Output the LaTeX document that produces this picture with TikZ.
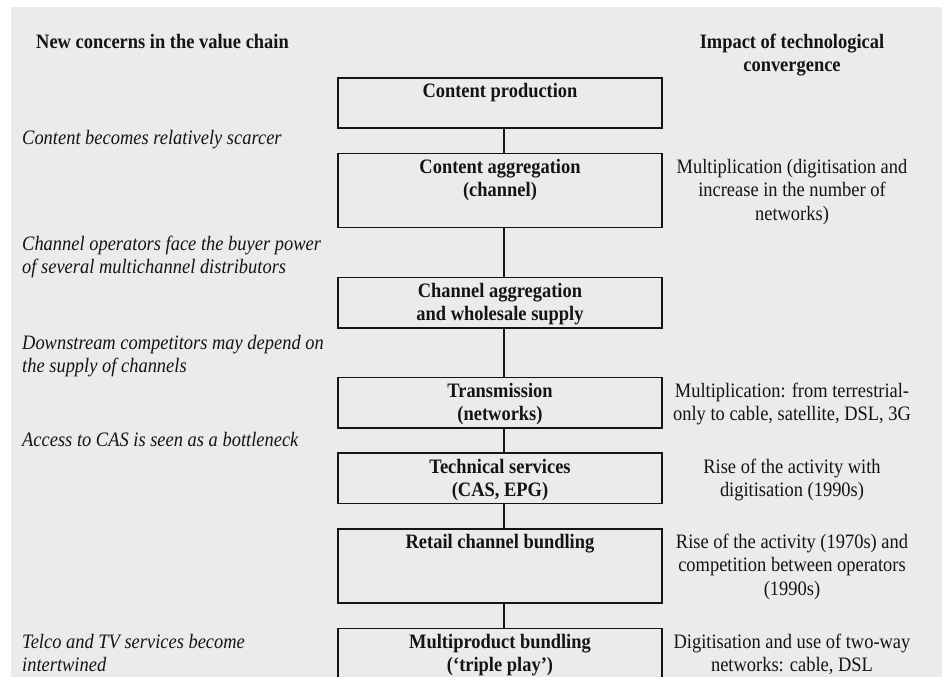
\documentclass[tikz,border=0pt]{standalone}
\usepackage{fontspec}
\setmainfont{Liberation Serif}[FakeStretch=0.9]
\definecolor{bg}{HTML}{EBEBEB}
\definecolor{ink}{HTML}{141414}
% fixed height for the first line of every text block
\newcommand{\firststrut}{\rule{0pt}{15pt}}
\begin{document}
\begin{tikzpicture}[x=1pt,y=-1pt,
  every node/.style={inner sep=0pt, text=ink},
  txt/.style={font=\fontsize{20.5}{23.5}\selectfont},
  stage/.style={draw=ink, line width=1.5pt, minimum width=324pt, anchor=north},
  stagetext/.style={font=\fontsize{20.5}{23.5}\selectfont\bfseries, anchor=north, align=center},
  concern/.style={font=\fontsize{20.5}{23.5}\selectfont\itshape, anchor=north west, align=left},
  impact/.style={txt, anchor=north, align=center},
  heading/.style={font=\fontsize{20.5}{23.5}\selectfont\bfseries},
  link/.style={draw=ink, line width=1.2pt}
]
\useasboundingbox (0,0) rectangle (942,677);
\clip (0,0) rectangle (942,677);
\fill[bg] (11,7) rectangle (942,677);

% column headings
\node[heading, anchor=north west] (hl) at (36,33) {\firststrut New concerns in the value chain};
\node[heading, anchor=north, align=center] (hr) at (792,33) {\firststrut Impact of technological\\convergence};

% stages of the value chain
\node[stage, minimum height=50pt] (s1) at (500,77) {};
\node[stage, minimum height=74pt] (s2) at (500,152.7) {};
\node[stage, minimum height=50.3pt] (s3) at (500,276.7) {};
\node[stage, minimum height=50.6pt] (s4) at (500,376.7) {};
\node[stage, minimum height=50.4pt] (s5) at (500,452.3) {};
\node[stage, minimum height=74.3pt] (s6) at (500,528) {};
\node[stage, minimum height=80pt] (s7) at (500,627.7) {};

\node[stagetext] (t1) at (500,82) {\firststrut Content production};
\node[stagetext] (t2) at (500,158) {\firststrut Content aggregation\\(channel)};
\node[stagetext] (t3) at (500,282) {\firststrut Channel aggregation\\and wholesale supply};
\node[stagetext] (t4) at (500,382) {\firststrut Transmission\\(networks)};
\node[stagetext] (t5) at (500,458) {\firststrut Technical services\\(CAS, EPG)};
\node[stagetext] (t6) at (500,533) {\firststrut Retail channel bundling};
\node[stagetext] (t7) at (500,633) {\firststrut Multiproduct bundling\\(`triple play')};

% links between stages
\draw[link] ([xshift=4pt]s1.south) -- ([xshift=4pt]s2.north);
\draw[link] ([xshift=4pt]s2.south) -- ([xshift=4pt]s3.north);
\draw[link] ([xshift=4pt]s3.south) -- ([xshift=4pt]s4.north);
\draw[link] ([xshift=4pt]s4.south) -- ([xshift=4pt]s5.north);
\draw[link] ([xshift=4pt]s5.south) -- ([xshift=4pt]s6.north);
\draw[link] ([xshift=4pt]s6.south) -- ([xshift=4pt]s7.north);

% new concerns
\node[concern] (c1) at (22,129) {\firststrut Content becomes relatively scarcer};
\node[concern] (c2) at (22,235) {\firststrut Channel operators face the buyer power\\of several multichannel distributors};
\node[concern] (c3) at (22,334) {\firststrut Downstream competitors may depend on\\the supply of channels};
\node[concern] (c4) at (22,431) {\firststrut Access to CAS is seen as a bottleneck};
\node[concern] (c5) at (22,633) {\firststrut Telco and TV services become\\intertwined};

% impact of convergence
\node[impact] (i2) at (792,158) {\firststrut Multiplication (digitisation and\\increase in the number of\\networks)};
\node[impact] (i4) at (792,382) {\firststrut Multiplication: from terrestrial-\\only to cable, satellite, DSL, 3G};
\node[impact] (i5) at (792,458) {\firststrut Rise of the activity with\\digitisation (1990s)};
\node[impact] (i6) at (792,533) {\firststrut Rise of the activity (1970s) and\\competition between operators\\(1990s)};
\node[impact] (i7) at (792,633) {\firststrut Digitisation and use of two-way\\networks: cable, DSL};
\end{tikzpicture}
\end{document}
